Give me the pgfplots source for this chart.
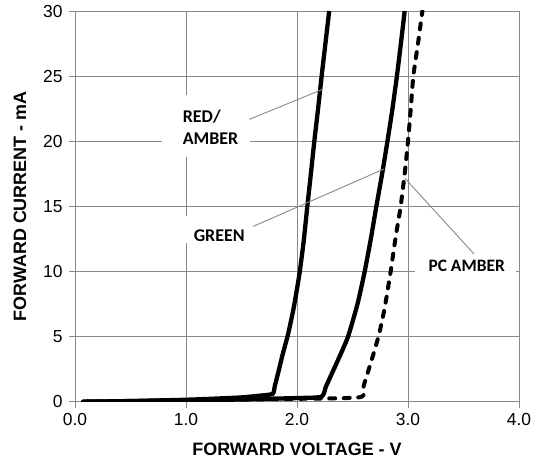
\documentclass[border=0pt]{standalone}
\usepackage{pgfplots}
\pgfplotsset{compat=1.18}
\usepackage{fontspec}
\setmainfont{Liberation Sans}
\newfontfamily\carlito{Carlito}
\definecolor{gridgray}{HTML}{888888}
\begin{document}
\begin{tikzpicture}
\useasboundingbox (-75bp,-59.3bp) rectangle (462bp,401.7bp);
\begin{axis}[
  scale only axis, width=444bp, height=390.7bp,
  xmin=0, xmax=4, ymin=0, ymax=30,
  xtick={0,1,2,3,4}, xticklabels={0.0,1.0,2.0,3.0,4.0},
  ytick={0,5,10,15,20,25,30}, yticklabels={0,5,10,15,20,25,30},
  xtick pos=bottom, ytick pos=left,
  tick align=outside, major tick length=6bp,
  tick style={gridgray, line width=0.9bp},
  grid=major, major grid style={gridgray, line width=0.9bp},
  axis line style={gridgray, line width=0.9bp},
  ticklabel style={font=\fontsize{17.5}{20}\selectfont, text=black},
  xticklabel style={yshift=-2bp},
  yticklabel style={xshift=-3bp},
  xlabel={FORWARD VOLTAGE - V},
  ylabel={FORWARD CURRENT - mA},
  label style={font=\bfseries\fontsize{18}{20}\selectfont},
  xlabel style={at={(axis description cs:0.5,-0.121)}, anchor=center},
  ylabel style={at={(axis description cs:-0.124,0.5)}, anchor=center, rotate=0},
]
% white label boxes
\fill[white] (axis cs:0.784,18.79) rectangle (axis cs:1.577,23.55);
\fill[white] (axis cs:0.991,12.19) rectangle (axis cs:1.604,14.26);
\fill[white] (axis cs:3.063,9.42) rectangle (axis cs:3.973,11.34);

% RED/AMBER
\addplot[black, line width=4.3bp, line join=round, smooth, tension=0.35] coordinates {
(0.07,0) (0.5,0.05) (1.0,0.15) (1.3,0.25) (1.5,0.33) (1.65,0.45) (1.78,0.6)
(1.80,1.2) (1.83,2.2) (1.87,3.6) (1.92,5.2) (1.97,7.2) (2.02,9.7) (2.06,12.3)
(2.093,15) (2.125,17.5) (2.156,20) (2.19,22.5) (2.222,25) (2.256,27.5) (2.29,30)
};
% GREEN
\addplot[black, line width=4.3bp, line join=round, smooth, tension=0.35] coordinates {
(0.07,0) (1.0,0.1) (1.5,0.18) (2.0,0.28) (2.22,0.38) (2.26,1.15) (2.30,1.9)
(2.38,3.4) (2.46,5) (2.545,7.5) (2.61,10) (2.665,12.5) (2.715,15) (2.767,17.5)
(2.815,20) (2.86,22.5) (2.90,25) (2.936,27.5) (2.97,30)
};
% PC AMBER
\addplot[black, line width=4bp, line cap=round, line join=round, dash pattern=on 6bp off 8.5bp, smooth, tension=0.35] coordinates {
(0.07,0) (1.0,0.1) (2.0,0.22) (2.57,0.35) (2.60,1.2) (2.64,2.3) (2.69,3.7)
(2.74,5.2) (2.79,7.2) (2.84,9.8) (2.89,12.7) (2.934,15) (2.97,17.5) (3.00,20)
(3.025,22.5) (3.048,25) (3.09,27.5) (3.13,30)
};

% leader lines
\draw[gridgray, line width=0.9bp] (axis cs:1.571,21.68) -- (axis cs:2.232,23.99);
\draw[gridgray, line width=0.9bp] (axis cs:1.606,13.46) -- (axis cs:2.784,17.87);
\draw[gridgray, line width=0.9bp] (axis cs:3.595,11.34) -- (axis cs:2.973,17.15);

% labels
\node[anchor=west, align=left, inner sep=0pt, font=\carlito\bfseries\fontsize{18}{22.6}\selectfont]
  at (axis cs:0.970,21.09) {RED/\\AMBER};
\node[anchor=center, inner sep=0pt, font=\carlito\bfseries\fontsize{18}{21}\selectfont]
  at (axis cs:1.299,12.74) {GREEN};
\node[anchor=center, inner sep=0pt, font=\carlito\bfseries\fontsize{17.5}{21}\selectfont]
  at (axis cs:3.529,10.40) {PC AMBER};
\end{axis}
\end{tikzpicture}
\end{document}
